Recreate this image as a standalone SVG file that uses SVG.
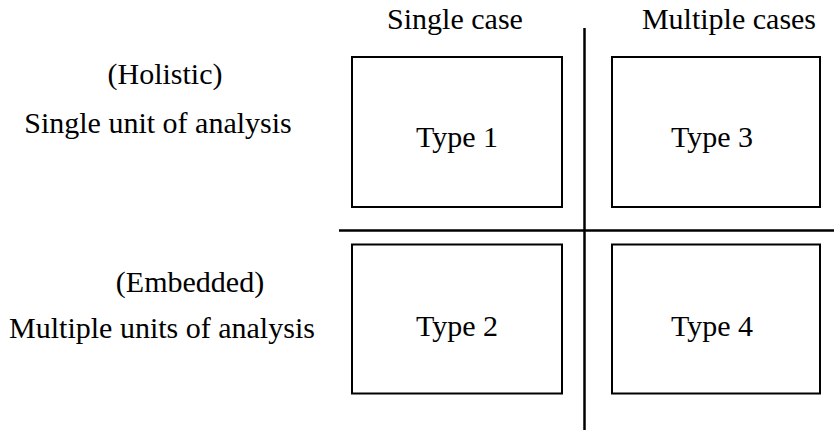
<svg xmlns="http://www.w3.org/2000/svg" width="836" height="431" viewBox="0 0 836 431">
<style>
text{font-family:"Liberation Serif","Times New Roman",serif;font-size:30px;fill:#000;text-anchor:middle}
.box{fill:#fff;stroke:#000;stroke-width:2}
.axis{stroke:#000;stroke-width:2.5;fill:none}
</style>
<rect width="836" height="431" fill="#fff"/>
<g id="connectors">
<line class="axis" x1="584.5" y1="28" x2="584.5" y2="430"/>
<line class="axis" x1="339" y1="230.5" x2="834" y2="230.5"/>
</g>
<g id="header-single"><text x="455" y="29">Single case</text></g>
<g id="header-multiple"><text x="729" y="29">Multiple cases</text></g>
<g id="row-holistic">
<text x="165" y="84">(Holistic)</text>
<text x="158" y="133">Single unit of analysis</text>
</g>
<g id="row-embedded">
<text x="190" y="292">(Embedded)</text>
<text x="162" y="338">Multiple units of analysis</text>
</g>
<g id="type1"><rect class="box" x="352" y="57" width="210" height="150"/><text x="457" y="147">Type 1</text></g>
<g id="type3"><rect class="box" x="612" y="57" width="208" height="150"/><text x="712" y="147">Type 3</text></g>
<g id="type2"><rect class="box" x="352" y="244.5" width="210" height="149"/><text x="457" y="336">Type 2</text></g>
<g id="type4"><rect class="box" x="612" y="244.5" width="208" height="149"/><text x="712" y="336">Type 4</text></g>
</svg>
